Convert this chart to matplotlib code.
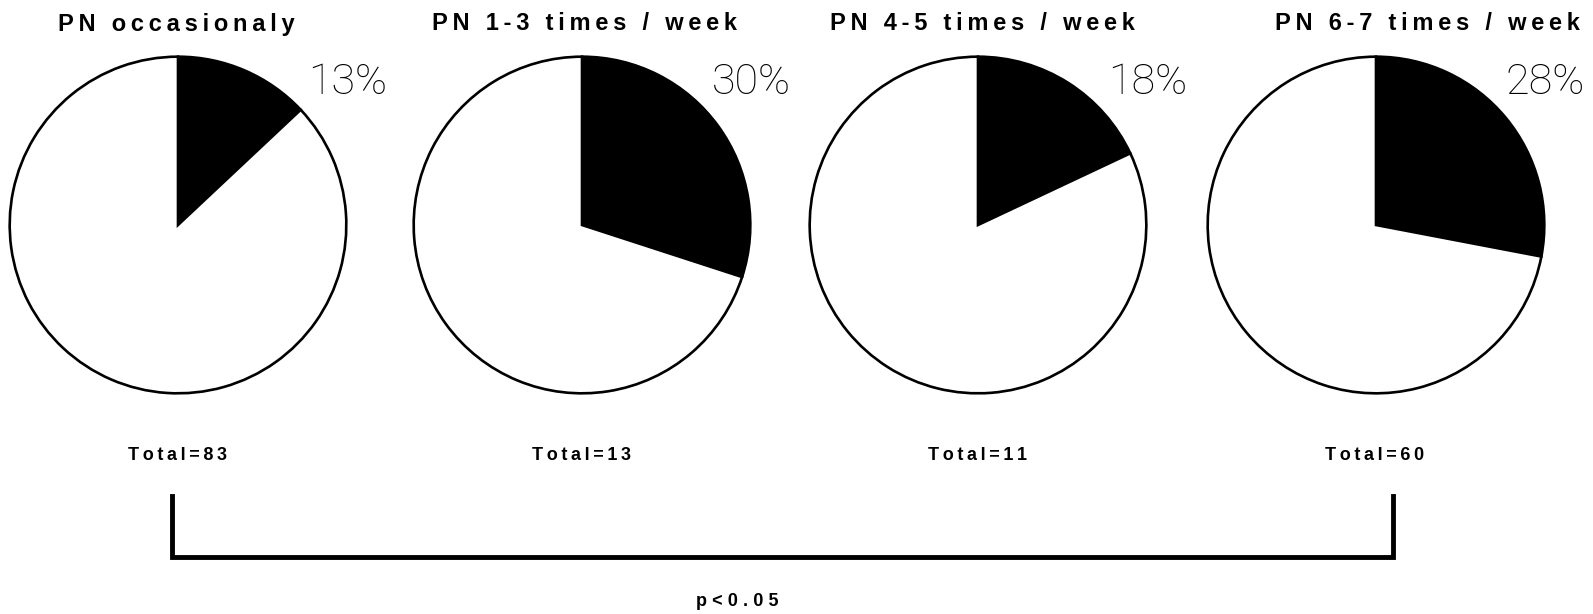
import matplotlib.pyplot as plt

groups = ["PN occasionaly", "PN 1-3 times / week", "PN 4-5 times / week", "PN 6-7 times / week"]
percents = [13, 30, 18, 28]
totals = [83, 13, 11, 60]
p_label = "p<0.05"

W, H = 1593, 614
fig = plt.figure(figsize=(W / 100, H / 100), dpi=100)

centers = [178, 582, 978, 1376]
title_x = [176, 585, 982, 1427]
cy, R = 225, 170


def spaced(s, gap="\u2009"):
    return gap.join(s)


# overlay axes in pixel coordinates for text and bracket
ov = fig.add_axes([0, 0, 1, 1])
ov.set_xlim(0, W)
ov.set_ylim(H, 0)
ov.axis("off")

bold = ["Liberation Sans", "DejaVu Sans"]

for i, (name, pct, tot) in enumerate(zip(groups, percents, totals)):
    cx = centers[i]
    ax = fig.add_axes([(cx - R) / W, (H - cy - R) / H, 2 * R / W, 2 * R / H])
    ax.pie([pct, 100 - pct], colors=["black", "white"], startangle=90,
           counterclock=False, radius=1,
           wedgeprops=dict(edgecolor="black", linewidth=1.9))
    ax.set_xlim(-1.01, 1.01)
    ax.set_ylim(-1.01, 1.01)
    ax.set_aspect("equal")
    ax.axis("off")

    ov.text(title_x[i], 24, spaced(name), ha="center", va="center",
            fontsize=17, fontweight="bold", family=bold)
    ov.text(cx + 209, 82, f"{pct}%", ha="right", va="center",
            fontsize=31, fontweight="light", family=["Roboto", "DejaVu Sans"])
    ov.text(cx - 1, 455, spaced(f"Total={tot}"), ha="center", va="center",
            fontsize=13, fontweight="bold", family=bold)

ov.plot([172, 172, 1393, 1393], [496, 557, 557, 496], color="black",
        linewidth=3.5, solid_joinstyle="miter")
ov.text(737, 601, spaced(p_label, "\u2009\u200a"), ha="center", va="center",
        fontsize=13, fontweight="bold", family=bold)

fig.savefig("out.png", dpi=100)
